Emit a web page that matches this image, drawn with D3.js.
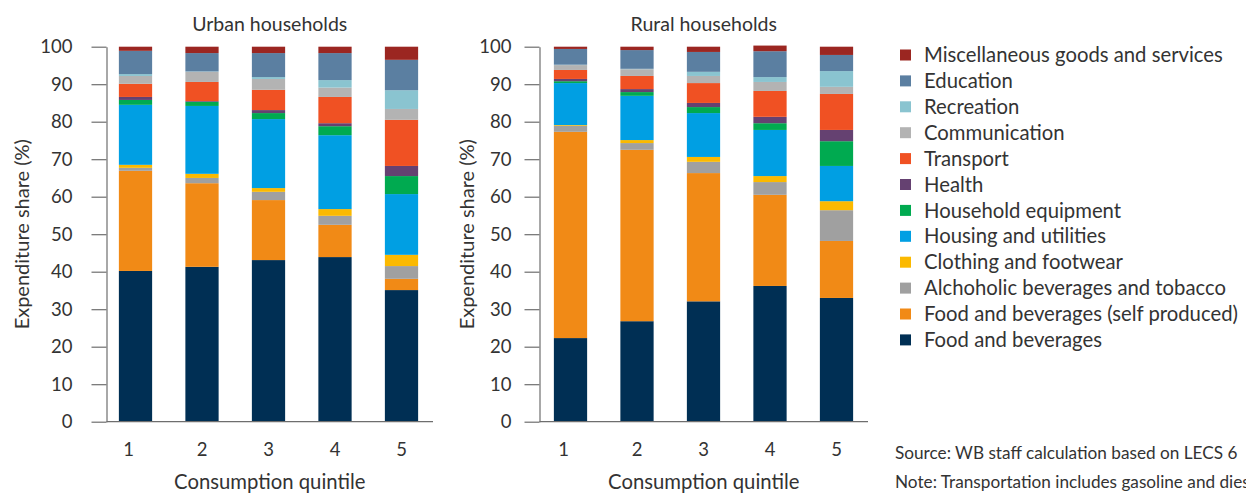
<!DOCTYPE html>
<html>
<head>
<meta charset="utf-8">
<script src="https://cdn.jsdelivr.net/npm/d3@7"></script>
<style>
  html, body { margin: 0; padding: 0; background: #fff; }
  svg { display: block; }
  text { font-family: Lato, "Noto Sans", sans-serif; fill: #333; }
</style>
</head>
<body>
<svg id="chart" width="1246" height="493"></svg>
<script>
// Consumption quintiles on the x axis
const quintiles = ["1", "2", "3", "4", "5"];

// Expenditure categories, stacked bottom to top
const seriesNames = [
  "Food and beverages",
  "Food and beverages (self produced)",
  "Alchoholic beverages and tobacco",
  "Clothing and footwear",
  "Housing and utilities",
  "Household equipment",
  "Health",
  "Transport",
  "Communication",
  "Recreation",
  "Education",
  "Miscellaneous goods and services"
];

const seriesColors = [
  "#002f54", "#f18a16", "#a0a0a0", "#fbb900", "#009fe3", "#00aa50",
  "#654171", "#f05123", "#b3b3b3", "#8ac4d0", "#5b7fa1", "#9b2621"
];

// Shares (%) per category, one row per series, one value per quintile
const urbanShares = [
  [40.2, 41.3, 43.1, 43.9, 35.1],
  [26.7, 22.3, 16.0, 8.6, 3.0],
  [0.8, 1.4, 2.2, 2.4, 3.4],
  [0.8, 1.1, 1.0, 1.8, 3.0],
  [16.0, 18.1, 18.4, 19.7, 16.2],
  [1.3, 1.1, 1.6, 2.4, 4.8],
  [0.8, 0.2, 0.8, 0.8, 2.7],
  [3.5, 5.1, 5.4, 7.0, 12.3],
  [2.1, 2.7, 2.9, 2.5, 2.9],
  [0.5, 0.1, 0.5, 2.0, 5.0],
  [6.2, 4.9, 6.4, 7.2, 8.1],
  [1.1, 1.7, 1.7, 1.7, 3.5]
];

const ruralShares = [
  [22.3, 26.8, 32.1, 36.2, 33.0],
  [55.0, 45.7, 34.2, 24.3, 15.2],
  [1.6, 1.8, 3.0, 3.4, 8.2],
  [0.2, 0.8, 1.3, 1.6, 2.4],
  [11.2, 11.8, 11.7, 12.3, 9.4],
  [0.5, 1.0, 1.6, 1.8, 6.6],
  [0.6, 0.8, 1.1, 1.7, 3.0],
  [2.4, 3.5, 5.3, 6.9, 9.6],
  [1.3, 1.8, 1.9, 2.4, 1.9],
  [0.1, 0.1, 1.1, 1.3, 4.2],
  [4.2, 5.0, 5.3, 6.9, 4.3],
  [0.6, 0.9, 1.4, 1.5, 2.2]
];

const yTicks = [0, 10, 20, 30, 40, 50, 60, 70, 80, 90, 100];

const svg = d3.select("#chart");
const axisColor = "#6e6e6e";
const y = d3.scaleLinear().domain([0, 100]).range([421.7, 46.7]);
const color = d3.scaleOrdinal().domain(seriesNames).range(seriesColors);

function drawPanel(cfg) {
  const rows = quintiles.map((q, i) => {
    const r = { quintile: q };
    seriesNames.forEach((s, k) => { r[s] = cfg.shares[k][i]; });
    return r;
  });
  const stacked = d3.stack().keys(seriesNames)(rows);

  const x = d3.scaleBand()
    .domain(quintiles)
    .range(cfg.band)
    .paddingInner(0.5)
    .paddingOuter(0.25);

  const g = svg.append("g");

  // stacked bars
  g.selectAll("g.layer")
    .data(stacked)
    .join("g")
    .attr("class", "layer")
    .attr("fill", d => color(d.key))
    .selectAll("rect")
    .data(d => d)
    .join("rect")
    .attr("x", d => x(d.data.quintile))
    .attr("width", x.bandwidth())
    .attr("y", d => y(d[1]))
    .attr("height", d => y(d[0]) - y(d[1]));

  // y axis
  const yAxis = g.append("g")
    .attr("transform", `translate(${cfg.axisX},0)`)
    .call(d3.axisLeft(y).tickValues(yTicks).tickSize(15).tickSizeOuter(0).tickPadding(cfg.tickPad));
  yAxis.select(".domain").attr("stroke", axisColor).attr("stroke-width", 1.2);
  yAxis.selectAll(".tick line").attr("stroke", axisColor).attr("stroke-width", 1.2);
  yAxis.selectAll(".tick text")
    .attr("font-size", 18.5)
    .attr("font-family", "Lato, sans-serif")
    .style("fill", "#333");

  // x baseline
  g.append("line")
    .attr("x1", cfg.axisX).attr("x2", cfg.lineEnd)
    .attr("y1", y(0)).attr("y2", y(0))
    .attr("stroke", axisColor).attr("stroke-width", 1.2);

  // x axis labels
  const xAxis = g.append("g")
    .attr("transform", `translate(0,${y(0)})`)
    .call(d3.axisBottom(x).tickSize(0).tickPadding(21));
  xAxis.select(".domain").remove();
  xAxis.selectAll(".tick text")
    .attr("font-size", 18.5)
    .attr("font-family", "Lato, sans-serif")
    .attr("dx", d => d === "1" ? -7 : 0)
    .style("fill", "#333");

  const cx = (cfg.axisX + cfg.lineEnd) / 2;
  g.append("text")
    .attr("x", cx).attr("y", 31)
    .attr("text-anchor", "middle")
    .attr("font-size", 19.5)
    .text(cfg.title);

  g.append("text")
    .attr("x", cx).attr("y", 489)
    .attr("text-anchor", "middle")
    .attr("font-size", 20.3)
    .text("Consumption quintile");

  g.append("text")
    .attr("transform", `translate(${cfg.yTitleX},${(y(0) + y(100)) / 2}) rotate(-90)`)
    .attr("text-anchor", "middle")
    .attr("font-size", 20)
    .text("Expenditure share (%)");
}

drawPanel({
  title: "Urban households",
  shares: urbanShares,
  axisX: 106.5,
  band: [102.25, 434.75],
  lineEnd: 433,
  tickPad: 19,
  yTitleX: 29
});

drawPanel({
  title: "Rural households",
  shares: ruralShares,
  axisX: 539.5,
  band: [537.25, 869.75],
  lineEnd: 868,
  tickPad: 13,
  yTitleX: 474
});

// legend, top entry is the top of the stack
const legendItems = seriesNames.slice().reverse();
const legend = svg.append("g").attr("transform", "translate(900,55)");
const item = legend.selectAll("g")
  .data(legendItems)
  .join("g")
  .attr("transform", (d, i) => `translate(0,${i * 25.9})`);
item.append("rect")
  .attr("x", 0).attr("y", -5.5)
  .attr("width", 11).attr("height", 11)
  .attr("fill", d => color(d));
item.append("text")
  .attr("x", 24).attr("y", 0)
  .attr("dy", "0.35em")
  .attr("font-size", 20.3)
  .text(d => d);

// source and note lines
svg.append("text")
  .attr("x", 895).attr("y", 459)
  .attr("font-size", 17.2)
  .text("Source: WB staff calculation based on LECS 6");
svg.append("text")
  .attr("x", 895).attr("y", 488)
  .attr("font-size", 17.2)
  .text("Note: Transportation includes gasoline and diesel");
</script>
</body>
</html>
